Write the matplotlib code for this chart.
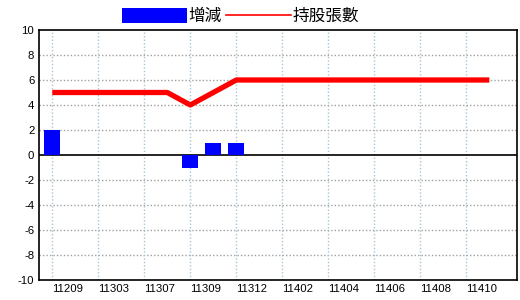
import matplotlib
matplotlib.use("Agg")
import matplotlib.pyplot as plt
import matplotlib.transforms as mtransforms
from matplotlib.patches import Patch
from matplotlib.lines import Line2D
import numpy as np

plt.rcParams['font.family'] = ['Noto Sans CJK TC', 'DejaVu Sans']

# data (20 monthly points; labels shown on every other point)
tick_labels = ["11209", "11303", "11307", "11309", "11312",
               "11402", "11404", "11406", "11408", "11410"]
change = [2, 0, 0, 0, 0, 0, -1, 1, 1, 0, 0, 0, 0, 0, 0, 0, 0, 0, 0, 0]
holdings = [5, 5, 5, 5, 5, 5, 4, 5, 6, 6, 6, 6, 6, 6, 6, 6, 6, 6, 6, 6]
series_names = ["增減", "持股張數"]
y_ticks = list(range(-10, 11, 2))

x = np.arange(len(holdings))

fig = plt.figure(figsize=(5.2, 3.0), dpi=100)
ax = fig.add_axes([38.5/520, 20/300, (516.7-38.5)/520, 250/300])

ax.set_xlim(-0.6, 20.19)
ax.set_ylim(-10, 10)

# grid
for yv in y_ticks:
    if yv not in (-10, 0, 10):
        ax.axhline(yv, color='#a0a0a0', lw=1, ls=(0, (1, 1.5)), zorder=1)
tick_pos = x[::2]
for xv in tick_pos:
    ax.axvline(xv, color='#a8c4d4', lw=1, ls=(0, (1, 1.5)), zorder=1)
ax.axhline(0, color='black', lw=1.2, zorder=2)

ax.bar(x, change, width=0.7, color='#0000ff', zorder=3)
ax.plot(x, holdings, color='#ff0000', lw=3.8, solid_capstyle='butt',
        solid_joinstyle='round', zorder=4)

ax.set_yticks(y_ticks)
ax.set_yticklabels([str(v) for v in y_ticks], family='Liberation Sans', fontsize=8.2)
ax.set_xticks(tick_pos)
ax.set_xticklabels(tick_labels, family='Liberation Sans', fontsize=8.2, ha='left')
offset = mtransforms.ScaledTranslation(2.5/100, 0, fig.dpi_scale_trans)
for lab in ax.get_xticklabels():
    lab.set_transform(lab.get_transform() + offset)
ax.tick_params(axis='both', length=0)
ax.tick_params(axis='y', pad=3)
ax.tick_params(axis='x', pad=3)
for s in ax.spines.values():
    s.set_color('black')
    s.set_linewidth(1.2)

handles = [Patch(facecolor='#0000ff', edgecolor='none'),
           Line2D([0], [0], color='#ff0000', lw=1.2)]
fig.legend(handles, series_names, loc='upper left',
           bbox_to_anchor=(122/520, 1 - 8/300), ncol=2, frameon=False,
           borderpad=0, borderaxespad=0, fontsize=12,
           handlelength=3.9, handleheight=1.0, handletextpad=0.1,
           columnspacing=0.25)

fig.savefig("out.png", dpi=100)
